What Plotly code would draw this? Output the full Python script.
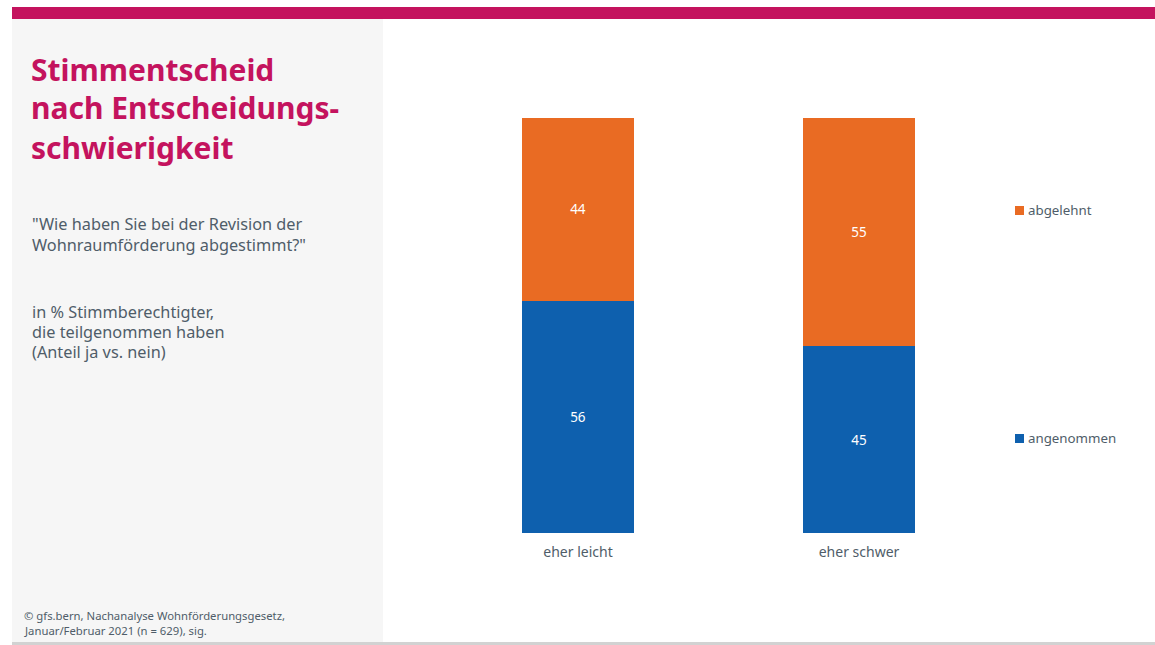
import plotly.graph_objects as go

# Survey result: vote decision by perceived difficulty of the decision
categories = ["eher leicht", "eher schwer"]
angenommen = [56, 45]
abgelehnt = [44, 55]

colors = {"angenommen": "#0E60AE", "abgelehnt": "#E96B23"}

title_lines = ["Stimmentscheid", "nach Entscheidungs-", "schwierigkeit"]
question_lines = ['"Wie haben Sie bei der Revision der', 'Wohnraumförderung abgestimmt?"']
basis_lines = ["in % Stimmberechtigter,", "die teilgenommen haben", "(Anteil ja vs. nein)"]
source_lines = ["© gfs.bern, Nachanalyse Wohnförderungsgesetz,", "Januar/Februar 2021 (n = 629), sig."]

W, H = 1155, 645
FONT = "Noto Sans"
TEXT_GREY = "#4F5D69"
MAGENTA = "#C4135E"


def px(x):
    return x / W


def py(y):
    return 1 - y / H


fig = go.Figure()
for name, vals in (("angenommen", angenommen), ("abgelehnt", abgelehnt)):
    fig.add_trace(go.Bar(
        x=categories, y=vals, name=name,
        marker=dict(color=colors[name], line=dict(width=0)),
        width=0.3986,
        text=vals, texttemplate="%{text}",
        textposition="inside", insidetextanchor="middle",
        textfont=dict(color="white", size=13.5, family=FONT),
        showlegend=False, hoverinfo="x+y+name",
    ))

shapes = [
    # top accent bar
    dict(type="rect", xref="paper", yref="paper", x0=px(12), x1=px(1155), y0=py(19), y1=py(7),
         fillcolor=MAGENTA, line=dict(width=0), layer="below"),
    # left information panel
    dict(type="rect", xref="paper", yref="paper", x0=px(12), x1=px(383), y0=py(642), y1=py(19),
         fillcolor="#F6F6F6", line=dict(width=0), layer="below"),
    # bottom rule
    dict(type="rect", xref="paper", yref="paper", x0=px(12), x1=px(1155), y0=py(645), y1=py(642),
         fillcolor="#D2D2D2", line=dict(width=0), layer="below"),
]

annotations = []


def text_block(lines, x, y_centers, size, color, bold=False):
    for line, yc in zip(lines, y_centers):
        annotations.append(dict(
            text=line, x=px(x), y=py(yc), xref="paper", yref="paper",
            xanchor="left", yanchor="middle", align="left", showarrow=False,
            font=dict(family=FONT, size=size, color=color,
                      weight="bold" if bold else "normal")))


text_block(title_lines, 28.5, [69, 108, 147], 30, MAGENTA, bold=True)
text_block(question_lines, 29.5, [224, 245], 16.3, TEXT_GREY)
text_block(basis_lines, 29.5, [312, 332, 352], 16.3, TEXT_GREY)
text_block(source_lines, 22, [615, 630], 11.3, TEXT_GREY)

# legend entries placed beside the bar segments
legend_rows = [("abgelehnt", 210), ("angenommen", 438)]
for name, yc in legend_rows:
    shapes.append(dict(type="rect", xref="paper", yref="paper",
                       x0=px(1015), x1=px(1024), y0=py(yc + 5), y1=py(yc - 4),
                       fillcolor=colors[name], line=dict(width=0)))
    annotations.append(dict(text=name, x=px(1026), y=py(yc), xref="paper", yref="paper",
                            xanchor="left", yanchor="middle", showarrow=False,
                            font=dict(family=FONT, size=13.3, color=TEXT_GREY)))

fig.update_layout(
    width=W, height=H, barmode="stack",
    margin=dict(l=0, r=0, t=0, b=0),
    paper_bgcolor="white", plot_bgcolor="rgba(0,0,0,0)",
    shapes=shapes, annotations=annotations,
    xaxis=dict(domain=[px(437.5), px(999.5)], range=[-0.5, 1.5], showgrid=False,
               zeroline=False, showline=False, ticks="outside", ticklen=6,
               tickcolor="rgba(0,0,0,0)",
               tickfont=dict(family=FONT, size=14, color=TEXT_GREY)),
    yaxis=dict(domain=[py(533), py(118)], range=[0, 100], visible=False),
)

fig.write_html("out.html")
